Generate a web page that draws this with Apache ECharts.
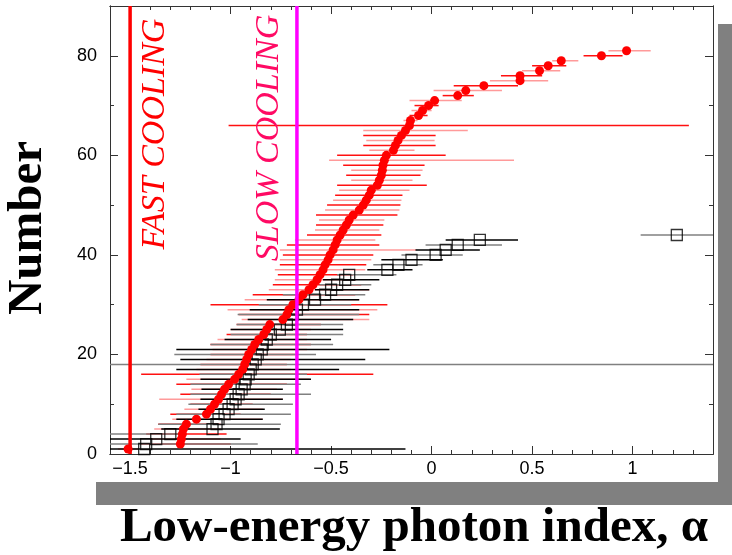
<!DOCTYPE html>
<html><head><meta charset="utf-8">
<script src="https://cdn.jsdelivr.net/npm/echarts@6/dist/echarts.min.js"></script>
<style>html,body{margin:0;padding:0;background:#fff}#c{width:732px;height:555px}</style>
</head><body><div id="c"></div>
<script>
// Red filled circles (y = 1..81)
const redX  = [-1.51,-1.25,-1.245,-1.24,-1.235,-1.22,-1.17,-1.12,-1.10,-1.08,-1.06,-1.045,-1.03,-1.01,-0.98,-0.96,-0.94,-0.93,-0.92,-0.91,-0.895,-0.88,-0.86,-0.835,-0.82,-0.805,-0.74,-0.72,-0.71,-0.69,-0.66,-0.64,-0.61,-0.59,-0.57,-0.555,-0.54,-0.53,-0.515,-0.505,-0.49,-0.48,-0.47,-0.455,-0.44,-0.424,-0.41,-0.39,-0.36,-0.34,-0.325,-0.31,-0.30,-0.27,-0.26,-0.25,-0.245,-0.242,-0.235,-0.225,-0.19,-0.18,-0.167,-0.15,-0.13,-0.11,-0.105,-0.065,-0.045,-0.015,0.015,0.13,0.17,0.26,0.44,0.44,0.537,0.58,0.645,0.845,0.97];
const redLo = [-1.56,-1.45,-1.40,-1.42,-1.38,-1.36,-1.29,-1.30,-1.23,-1.20,-1.355,-1.25,-1.195,-1.27,-1.22,-1.445,-1.17,-1.15,-1.12,-1.10,-1.09,-1.10,-1.065,-1.02,-1.00,-0.97,-0.945,-0.96,-1.015,-1.10,-0.93,-0.89,-0.81,-0.79,-0.78,-0.765,-0.78,-0.755,-0.755,-0.74,-0.755,-0.72,-0.68,-0.62,-0.58,-0.575,-0.56,-0.575,-0.53,-0.52,-0.49,-0.48,-0.46,-0.47,-0.40,-0.425,-0.40,-0.44,-0.51,-0.47,-0.31,-0.34,-0.325,-0.34,-0.34,-1.01,-0.14,-0.11,-0.10,-0.085,-0.11,0.055,0.01,0.11,0.29,0.345,0.45,0.50,0.60,0.756,0.88];
const redHi = [-1.46,-1.00,-1.05,-1.02,-1.05,-1.05,-0.84,-0.95,-0.84,-0.89,-0.74,-0.80,-0.77,-0.72,-0.607,-0.29,-0.70,-0.72,-0.70,-0.68,-0.62,-0.60,-0.62,-0.62,-0.60,-0.55,-0.31,-0.31,-0.27,-0.22,-0.36,-0.38,-0.31,-0.35,-0.375,-0.39,-0.33,-0.325,-0.30,-0.29,-0.076,-0.26,-0.28,-0.25,-0.26,-0.24,-0.235,-0.17,-0.16,-0.155,-0.15,-0.145,-0.11,-0.024,-0.095,-0.055,-0.045,-0.035,0.41,0.07,-0.085,0.02,0.015,0.02,0.18,1.28,-0.07,-0.02,0.0,0.035,0.15,0.21,0.35,0.43,0.58,0.55,0.64,0.67,0.73,0.95,1.09];
// Black open squares (y = 1..44)
const blackX  = [-1.43,-1.42,-1.37,-1.30,-1.09,-1.07,-1.06,-1.03,-1.01,-0.99,-0.975,-0.96,-0.945,-0.93,-0.925,-0.91,-0.90,-0.89,-0.875,-0.865,-0.845,-0.84,-0.82,-0.80,-0.755,-0.72,-0.70,-0.69,-0.67,-0.64,-0.58,-0.53,-0.50,-0.47,-0.43,-0.41,-0.22,-0.165,-0.10,0.02,0.07,0.13,0.24,1.22];
const blackLo = [-1.7,-1.7,-1.7,-1.7,-1.345,-1.36,-1.27,-1.27,-1.16,-1.21,-1.15,-1.20,-1.145,-1.20,-1.15,-1.155,-1.27,-1.7,-1.25,-1.28,-1.27,-1.10,-1.03,-1.0,-1.0,-0.97,-0.915,-0.965,-0.905,-0.86,-0.82,-0.74,-0.58,-0.557,-0.54,-0.47,-0.32,-0.29,-0.25,-0.15,-0.08,-0.03,0.07,1.04];
const blackHi = [-0.13,-0.865,-0.95,-1.25,-0.755,-0.75,-0.84,-0.70,-0.83,-0.69,-0.74,-0.60,-0.74,-0.65,-0.60,-0.62,-0.46,1.5,-0.33,-0.575,-0.21,-0.49,-0.50,-0.44,-0.44,-0.44,-0.39,-0.36,-0.36,-0.40,-0.36,-0.33,-0.31,-0.30,-0.26,-0.175,-0.095,-0.045,0.056,0.155,0.24,0.35,0.43,1.5];
// Axis ticks
const xMajor = [-1.5,-1,-0.5,0,0.5,1];
const yMajor = [0,20,40,60,80];
const xMinor = []; for (let k=-16;k<=14;k++) xMinor.push(k/10);
const yMinor = [0,10,20,30,40,50,60,70,80,90];
const coolLines = [{x:-1.5,name:'FAST COOLING'},{x:-0.67,name:'SLOW COOLING'}];

const chart = echarts.init(document.getElementById('c'), null, {renderer:'canvas'});
const AX = '#333';
function xAx(pos, major, showLab){
  return {type:'value', position:pos, min:-1.6, max:1.4, gridIndex:0,
    axisLine:{show:true, onZero:false, lineStyle:{color:AX,width:1}},
    axisTick:{show:true, inside:true, length: major?8:4, customValues: major?xMajor:xMinor, lineStyle:{color:AX,width:1}},
    axisLabel:{show:showLab, customValues:xMajor, margin:6, fontFamily:'Liberation Sans', fontSize:18, color:'#000',
      formatter:v=>String(v).replace('-','\u2212')},
    splitLine:{show:false}};
}
function yAx(pos, major, showLab){
  return {type:'value', position:pos, min:0, max:90, gridIndex:0,
    axisLine:{show:true, onZero:false, lineStyle:{color:AX,width:1}},
    axisTick:{show:true, inside:true, length: major?8:4, customValues: major?yMajor:yMinor, lineStyle:{color:AX,width:1}},
    axisLabel:{show:showLab, customValues:yMajor, margin:13, fontFamily:'Liberation Sans', fontSize:18, color:'#000'},
    splitLine:{show:false}};
}
function bars(xs, lo, hi, cols, w){
  return {type:'custom', xAxisIndex:0, yAxisIndex:0, clip:true, z:2,
    data: xs.map((x,i)=>[lo[i], hi[i], i+1, i]),
    renderItem:(params, api)=>{
      const a = api.coord([api.value(0), api.value(2)]);
      const b = api.coord([api.value(1), api.value(2)]);
      const i = api.value(3);
      return {type:'line', shape:{x1:a[0],y1:a[1],x2:b[0],y2:b[1]}, style:{stroke:cols[i%2], lineWidth:w}};
    }};
}
chart.setOption({
  animation:false,
  backgroundColor:'#fff',
  grid:{left:110, top:6, right:19, bottom:101, containLabel:false},
  xAxis:[xAx('bottom',true,true), xAx('bottom',false,false), xAx('top',true,false), xAx('top',false,false)],
  yAxis:[yAx('left',true,true), yAx('left',false,false), yAx('right',true,false), yAx('right',false,false)],
  graphic:[
    {type:'rect', z:-20, shape:{x:96,y:24,width:636,height:481}, style:{fill:'#808080'}},
    {type:'rect', z:-19, shape:{x:0,y:0,width:718,height:482}, style:{fill:'#fff'}},
    {type:'text', z:50, x:155, y:134, rotation:Math.PI/2,
      style:{text:coolLines[0].name, fill:'#ff0000', font:'italic 34px "Liberation Serif"', textAlign:'center', textVerticalAlign:'middle'}},
    {type:'text', z:50, x:269, y:138, rotation:Math.PI/2,
      style:{text:coolLines[1].name, fill:'#ff0a64', font:'italic 34px "Liberation Serif"', textAlign:'center', textVerticalAlign:'middle'}},
    {type:'text', z:50, x:28, y:228, rotation:Math.PI/2,
      style:{text:'Number', fill:'#000', font:'bold 49px "Liberation Serif"', textAlign:'center', textVerticalAlign:'middle'}},
    {type:'text', z:50, x:414, y:528,
      style:{text:'Low-energy photon index, \u03b1', fill:'#000', font:'bold 49px "Liberation Serif"', textAlign:'center', textVerticalAlign:'middle'}}
  ],
  series:[
    bars(redX, redLo, redHi, ['#ff9a9a','#ff1010'], 1.5),
    bars(blackX, blackLo, blackHi, ['#000000','#808080'], 1.5),
    {type:'scatter', xAxisIndex:0, yAxisIndex:0, z:3, symbol:'rect', symbolSize:11,
      itemStyle:{color:'rgba(0,0,0,0)', borderColor:'#000', borderWidth:1.3},
      data: blackX.map((x,i)=>[x,i+1])},
    {type:'scatter', xAxisIndex:0, yAxisIndex:0, z:4, symbol:'circle', symbolSize:9,
      itemStyle:{color:'#ff0000', opacity:1},
      data: redX.map((x,i)=>[x,i+1])},
    {type:'line', xAxisIndex:0, yAxisIndex:0, z:5, symbol:'none', silent:true,
      lineStyle:{color:'#ff0000', width:3.5}, data:[[coolLines[0].x,0],[coolLines[0].x,90]]},
    {type:'line', xAxisIndex:0, yAxisIndex:0, z:5, symbol:'none', silent:true,
      lineStyle:{color:'#ff00ff', width:3.5}, data:[[coolLines[1].x,0],[coolLines[1].x,90]]}
  ]
});
</script></body></html>
